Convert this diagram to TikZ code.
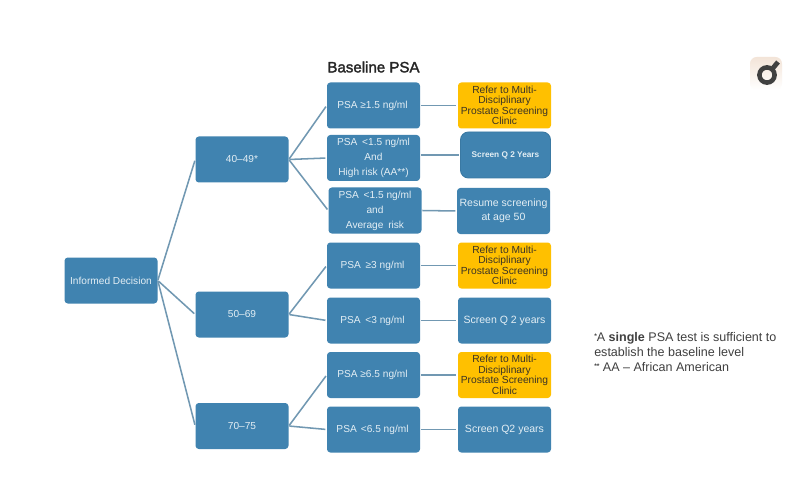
\documentclass[tikz,border=0pt]{standalone}
\usepackage{fontspec}
\setmainfont{Liberation Sans}
\newfontfamily\titlefont[FakeBold=2]{Liberation Sans}
\definecolor{boxblue}{HTML}{4083B0}
\definecolor{boxedge}{HTML}{3A79A3}
\definecolor{boxtext}{HTML}{E3EEF4}
\definecolor{ambertext}{HTML}{3A3326}
\definecolor{amberfill}{HTML}{FFC000}
\definecolor{linkcol}{HTML}{7198B2}
\definecolor{peach}{HTML}{F3E4D8}
\tikzset{
  x=0.75pt,y=-0.75pt,
  boxbase/.style={minimum width=69.75pt,minimum height=34.5pt,inner sep=0pt,rounded corners=2.5pt,align=center},
  bluebox/.style={boxbase,fill=boxblue,text=boxtext,font=\fontsize{7.6pt}{11.25pt}\selectfont},
  amberbox/.style={boxbase,fill=amberfill,text=ambertext,font=\fontsize{7.7pt}{7.9pt}\selectfont},
  roundbox/.style={boxbase,fill=boxblue,draw=boxedge,line width=0.7pt,rounded corners=6pt,text=boxtext,font=\fontsize{6.2pt}{7pt}\selectfont\bfseries},
  link/.style={draw=linkcol,line width=1.15pt,shorten >=1pt,shorten <=0.5pt},
  titletext/.style={text=black!85,inner sep=0pt,font=\fontsize{11.3pt}{13pt}\titlefont},
  notetext/.style={text=black!75,inner sep=0pt,align=left,font=\fontsize{9.4pt}{11.25pt}\selectfont}
}
\begin{document}
\begin{tikzpicture}
\useasboundingbox (0,0) rectangle (796,499);
\fill[white] (0,0) rectangle (796,499);

\node[titletext] (title) at (373.5,67) {Baseline PSA};

\node[bluebox] (inf) at (111,280.5) {Informed Decision};
\node[bluebox] (a) at (242,159.5) {40–49*};
\node[bluebox] (b) at (242,314.5) {50–69};
\node[bluebox] (c) at (242,426) {70–75};

\node[bluebox] (p1) at (373.5,105.5) {PSA ≥1.5 ng/ml\hspace{1.5pt}};
\node[bluebox] (p2) at (373.5,158) {PSA\hspace{1.5pt} <1.5 ng/ml\hspace{1.5pt}\\And\hspace{1.5pt}\\High risk (AA**)\hspace{1.5pt}};
\node[bluebox] (p3) at (375,210.5) {PSA\hspace{1.5pt} <1.5 ng/ml\hspace{1.5pt}\\and\hspace{1.5pt}\\Average\hspace{1.5pt} risk\hspace{1.5pt}};
\node[bluebox] (p4) at (373.5,265.5) {PSA\hspace{1.5pt} ≥3 ng/ml\hspace{1.5pt}};
\node[bluebox] (p5) at (373.5,320.5) {PSA\hspace{1.5pt} <3 ng/ml\hspace{1.5pt}};
\node[bluebox] (p6) at (373.5,375) {PSA ≥6.5 ng/ml\hspace{1.5pt}};
\node[bluebox] (p7) at (373.5,429.5) {PSA\hspace{1pt} <6.5 ng/ml\hspace{1.5pt}};

\node[amberbox] (r1) at (504.5,105.5) {Refer to Multi-\\Disciplinary\\Prostate Screening\\Clinic};
\node[roundbox,minimum width=67.5pt] (r2) at (505.5,155) {Screen Q 2 Years};
\node[bluebox,font=\fontsize{7.9pt}{10.5pt}\selectfont] (r3) at (503.5,211) {Resume screening\\at age 50};
\node[amberbox] (r4) at (504.5,265.5) {Refer to Multi-\\Disciplinary\\Prostate Screening\\Clinic};
\node[bluebox,font=\fontsize{7.9pt}{10.5pt}\selectfont] (r5) at (504.5,320.5) {Screen Q 2 years};
\node[amberbox] (r6) at (504.5,375) {Refer to Multi-\\Disciplinary\\Prostate Screening\\Clinic};
\node[bluebox,font=\fontsize{7.9pt}{10.5pt}\selectfont] (r7) at (504.5,429.5) {Screen Q2 years};

\draw[link] (inf.east) -- (a.west);
\draw[link] (inf.east) -- (b.west);
\draw[link] (inf.east) -- (c.west);
\draw[link] (a.east) -- (p1.west);
\draw[link] (a.east) -- (p2.west);
\draw[link] (a.east) -- (p3.west);
\draw[link] (b.east) -- (p4.west);
\draw[link] (b.east) -- (p5.west);
\draw[link] (c.east) -- (p6.west);
\draw[link] (c.east) -- (p7.west);
\draw[link] (p1.east) -- (r1.west);
\draw[link] (p2.east |- r2.west) -- (r2.west);
\draw[link] (p3.east) -- (r3.west);
\draw[link] (p4.east) -- (r4.west);
\draw[link] (p5.east) -- (r5.west);
\draw[link] (p6.east) -- (r6.west);
\draw[link] (p7.east) -- (r7.west);

\node[notetext,anchor=west] (note) at (594,352) {\raisebox{2.5pt}{\fontsize{5pt}{5pt}\selectfont\bfseries *}A \textbf{single} PSA test is sufficient to\\establish the baseline  level\\\raisebox{2.5pt}{\fontsize{5pt}{5pt}\selectfont\bfseries **} AA – African American};

% magnifier icon
\shade[top color=peach,bottom color=white,rounded corners=5pt] (750,57) rectangle (782,90);
\draw[black!75,line width=3.4pt] (767,75) circle (7.6);
\draw[black!75,line width=3.6pt] (773,68) -- (778,62);
\end{tikzpicture}
\end{document}
